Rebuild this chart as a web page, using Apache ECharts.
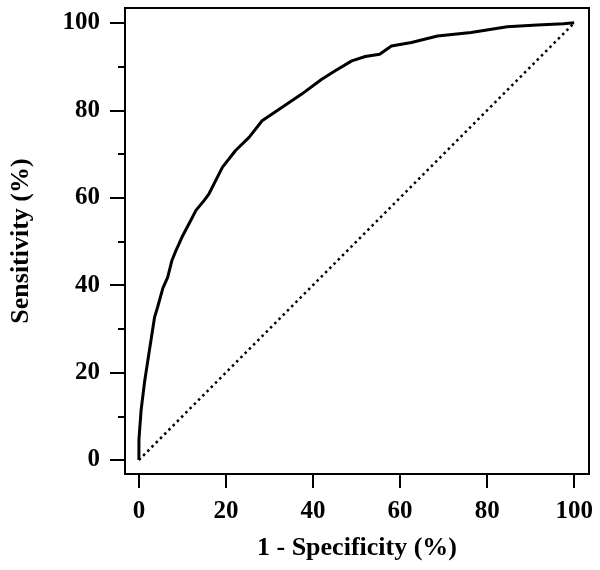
<!DOCTYPE html>
<html>
<head>
<meta charset="utf-8">
<script src="https://cdn.jsdelivr.net/npm/echarts@6/dist/echarts.min.js"></script>
<style>html,body{margin:0;padding:0;background:#fff;}#c{width:600px;height:570px;}</style>
</head>
<body>
<div id="c"></div>
<script>
// ROC curve points: [1 - specificity (%), sensitivity (%)]
const rocX = [0, 0, 0.5, 1.3, 2.3, 3.6, 4.3, 5.5, 6.6, 7.6, 8.5, 9.9, 11.9, 13.1, 15.0, 16.1, 19.2, 22.2, 25.3, 28.3, 32.9, 37.4, 42.0, 45.0, 48.9, 52.0, 55.3, 58.0, 62.6, 68.6, 76.3, 84.6, 91.5, 97.5, 100];
const rocY = [0, 4.6, 11.4, 17.9, 24.4, 32.7, 35.0, 39.3, 41.8, 45.7, 47.9, 51.0, 54.8, 57.1, 59.4, 60.9, 67.0, 70.8, 73.8, 77.6, 80.7, 83.7, 87.1, 89.0, 91.3, 92.3, 92.8, 94.7, 95.5, 97.0, 97.8, 99.1, 99.5, 99.8, 100];
// Reference (chance) diagonal
const diagX = [0, 100];
const diagY = [0, 100];
// Tick labels
const majorTicks = [0, 20, 40, 60, 80, 100];
const minorTicksY = [10, 30, 50, 70, 90];
const xTitle = '1 - Specificity (%)';
const yTitle = 'Sensitivity (%)';

const font = 'Liberation Serif';
const chart = echarts.init(document.getElementById('c'), null, {renderer: 'canvas'});
const axisMin = -3.2, axisMax = 103.4;
chart.setOption({
  animation: false,
  backgroundColor: '#fff',
  grid: {left: 122, top: 8, right: 11, bottom: 96, show: true, borderColor: '#000', borderWidth: 2, backgroundColor: 'transparent'},
  xAxis: {
    type: 'value', min: axisMin, max: axisMax,
    name: xTitle, nameLocation: 'middle', nameGap: 61,
    nameTextStyle: {fontFamily: font, fontWeight: 'bold', fontSize: 26, color: '#000'},
    splitLine: {show: false},
    axisLine: {show: true, onZero: false, lineStyle: {color: '#000', width: 2}},
    axisTick: {show: true, inside: false, customValues: majorTicks, length: 14, lineStyle: {color: '#000', width: 2}},
    axisLabel: {customValues: majorTicks, margin: 25, fontFamily: font, fontWeight: 'bold', fontSize: 25, color: '#000'}
  },
  yAxis: [{
    type: 'value', min: axisMin, max: axisMax,
    name: yTitle, nameLocation: 'middle', nameGap: 91,
    nameTextStyle: {fontFamily: font, fontWeight: 'bold', fontSize: 26, color: '#000'},
    splitLine: {show: false},
    axisLine: {show: true, onZero: false, lineStyle: {color: '#000', width: 2}},
    axisTick: {show: true, inside: false, customValues: majorTicks, length: 15, lineStyle: {color: '#000', width: 2}},
    axisLabel: {customValues: majorTicks, margin: 25, fontFamily: font, fontWeight: 'bold', fontSize: 25, color: '#000'}
  }, {
    type: 'value', min: axisMin, max: axisMax, position: 'left',
    splitLine: {show: false},
    axisLine: {show: false, onZero: false},
    axisTick: {show: true, inside: false, customValues: minorTicksY, length: 7, lineStyle: {color: '#000', width: 2}},
    axisLabel: {show: false}
  }],
  series: [{
    type: 'line', data: diagX.map((x, i) => [x, diagY[i]]), showSymbol: false, silent: true,
    lineStyle: {color: '#000', width: 2.5, type: [2.5, 3.5]}
  }, {
    type: 'line', data: rocX.map((x, i) => [x, rocY[i]]), showSymbol: false, silent: true,
    lineStyle: {color: '#000', width: 3}
  }]
});
</script>
</body>
</html>
